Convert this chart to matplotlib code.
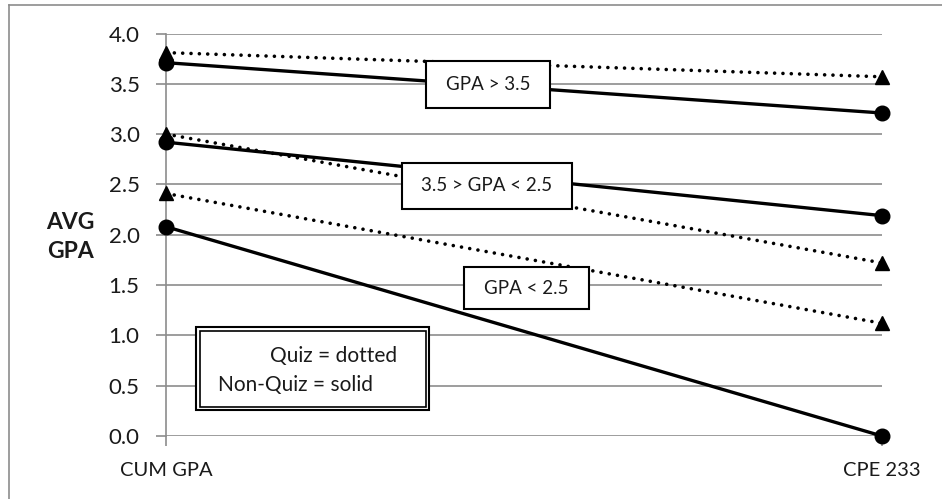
import matplotlib
matplotlib.use("Agg")
import matplotlib.pyplot as plt
from matplotlib.lines import Line2D
from matplotlib.patches import Rectangle

plt.rcParams['font.family'] = ['Lato', 'DejaVu Sans']

categories = ["CUM GPA", "CPE 233"]
quiz_high = [3.81, 3.57]
nonquiz_high = [3.71, 3.21]
quiz_mid = [3.00, 1.72]
nonquiz_mid = [2.92, 2.19]
quiz_low = [2.41, 1.12]
nonquiz_low = [2.08, 0.00]
yticks = [0.0, 0.5, 1.0, 1.5, 2.0, 2.5, 3.0, 3.5, 4.0]

W, H = 942, 499
fig = plt.figure(figsize=(W / 100, H / 100), dpi=100)
ax = fig.add_axes([166 / W, 1 - 436 / H, (882 - 166) / W, (436 - 33.5) / H])

x = list(range(len(categories)))
grid_c = "#8c8c8c"
txt_c = "#1a1a1a"
for v in yticks:
    ax.axhline(v, color=grid_c, lw=1.2, zorder=1)

for series in (quiz_high, quiz_mid, quiz_low):
    ax.plot(x, series, color="black", lw=2.6, linestyle=(0, (0.01, 2.3)),
            dash_capstyle="round", marker="^", markersize=10.5, zorder=3,
            clip_on=False)
for series in (nonquiz_high, nonquiz_mid, nonquiz_low):
    ax.plot(x, series, color="black", lw=2.4, linestyle="-",
            marker="o", markersize=10.5, zorder=3, clip_on=False)

ax.set_xlim(0, 1)
ax.set_ylim(0, 4.0)
ax.set_yticks(yticks)
ax.set_yticklabels([f"{v:.1f}" for v in yticks], fontsize=16, color=txt_c)
ax.set_xticks(x)
ax.set_xticklabels(categories, fontsize=14.5, color=txt_c)
for s in ("top", "right", "bottom"):
    ax.spines[s].set_visible(False)
ax.spines["left"].set_color(grid_c)
ax.spines["left"].set_linewidth(1.2)
ax.tick_params(axis="y", length=7, width=1.2, color=grid_c, pad=12)
ax.tick_params(axis="x", length=7, width=1.2, color=grid_c, pad=12)

# y label
fig.text(70 / W, 1 - 237 / H, "AVG\nGPA", fontsize=16.5, fontweight="bold",
         ha="center", va="center", linespacing=1.45, color=txt_c)

# annotation boxes (pixel coords -> figure fraction)
def pbox(x0, y0, x1, y1, text, fs=13.5):
    fig.patches.append(Rectangle((x0 / W, 1 - y1 / H), (x1 - x0) / W, (y1 - y0) / H,
                                 transform=fig.transFigure, facecolor="white",
                                 edgecolor="black", lw=1.5, zorder=10))
    fig.text((x0 + x1) / 2 / W, 1 - (y0 + y1) / 2 / H, text, fontsize=fs,
             ha="center", va="center", zorder=11, color=txt_c)

pbox(426, 61, 550, 108, "GPA > 3.5")
pbox(402, 163, 572, 209, "3.5 > GPA < 2.5")
pbox(464, 267, 589, 309, "GPA < 2.5")

# legend-like double box
x0, y0, x1, y1 = 196, 327, 429, 410
fig.patches.append(Rectangle((x0 / W, 1 - y1 / H), (x1 - x0) / W, (y1 - y0) / H,
                             transform=fig.transFigure, facecolor="white",
                             edgecolor="black", lw=1.5, zorder=10))
d = 3.5
fig.patches.append(Rectangle(((x0 + d) / W, 1 - (y1 - d) / H), (x1 - x0 - 2 * d) / W,
                             (y1 - y0 - 2 * d) / H, transform=fig.transFigure,
                             facecolor="none", edgecolor="black", lw=1.2, zorder=11))
fig.text(397 / W, 1 - 356 / H, "Quiz = dotted", fontsize=15, ha="right",
         va="center", zorder=12, color=txt_c)
fig.text(218 / W, 1 - 385 / H, "Non-Quiz = solid", fontsize=15, ha="left",
         va="center", zorder=12, color=txt_c)

# outer frame (left and top edges visible)
fig.add_artist(Line2D([9 / W, 9 / W], [0, 1 - 5 / H], transform=fig.transFigure,
                      color="#8c8c8c", lw=1.2))
fig.add_artist(Line2D([9 / W, 1], [1 - 5 / H, 1 - 5 / H], transform=fig.transFigure,
                      color="#8c8c8c", lw=1.2))

fig.savefig("out.png", dpi=100)
